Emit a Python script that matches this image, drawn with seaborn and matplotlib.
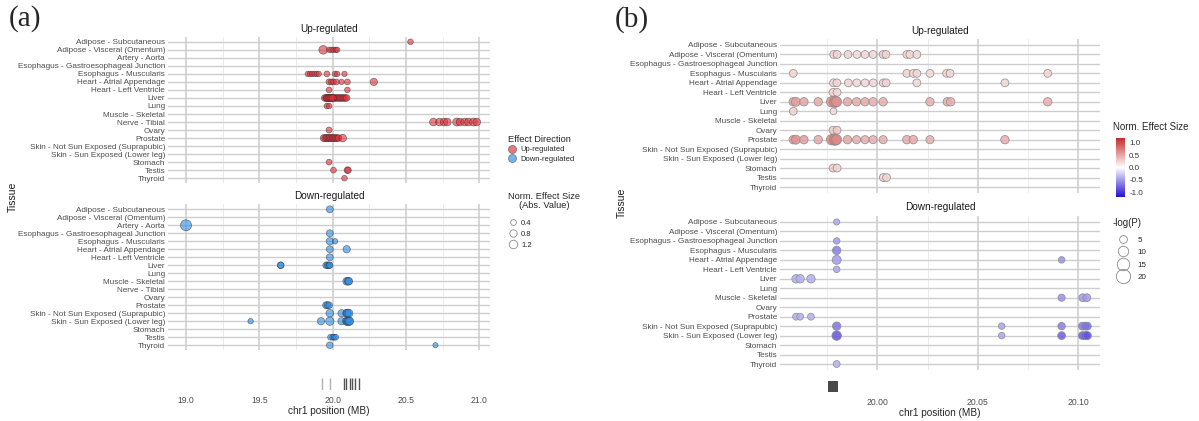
import matplotlib
matplotlib.use("Agg")
import matplotlib.pyplot as plt
import numpy as np
import pandas as pd
import seaborn as sns
from matplotlib.cm import ScalarMappable
from matplotlib.colors import LinearSegmentedColormap, Normalize
from matplotlib.lines import Line2D

sns.set_style("white")
plt.rcParams["font.family"] = ["Liberation Sans", "DejaVu Sans"]
plt.rcParams["axes.unicode_minus"] = False

W, H = 1199, 421

TISSUES_A = [
    "Adipose - Subcutaneous", "Adipose - Visceral (Omentum)", "Artery - Aorta",
    "Esophagus - Gastroesophageal Junction", "Esophagus - Muscularis",
    "Heart - Atrial Appendage", "Heart - Left Ventricle", "Liver", "Lung",
    "Muscle - Skeletal", "Nerve - Tibial", "Ovary", "Prostate",
    "Skin - Not Sun Exposed (Suprapubic)", "Skin - Sun Exposed (Lower leg)",
    "Stomach", "Testis", "Thyroid",
]
TISSUES_B = [t for t in TISSUES_A if t not in ("Artery - Aorta", "Nerve - Tibial")]

# ---- panel (a): up-regulated (tissue, position MB, |norm. effect|)
a_up_tissue = (["Adipose - Subcutaneous"]
               + ["Adipose - Visceral (Omentum)"] * 6
               + ["Esophagus - Muscularis"] * 10
               + ["Heart - Atrial Appendage"] * 7
               + ["Heart - Left Ventricle"] * 2
               + ["Liver"] * 21
               + ["Lung"] * 2
               + ["Nerve - Tibial"] * 10
               + ["Ovary"]
               + ["Prostate"] * 12
               + ["Stomach"]
               + ["Testis"] * 3
               + ["Thyroid"])
a_up_pos = [20.53,
            19.935, 19.975, 19.99, 20.005, 20.02, 20.03,
            19.83, 19.845, 19.86, 19.875, 19.89, 19.905, 19.96, 20.015, 20.03, 20.08,
            19.975, 19.99, 20.005, 20.025, 20.06, 20.10, 20.28,
            19.975, 20.10,
            19.945, 19.955, 19.965, 19.975, 19.985, 19.995, 20.005, 20.015, 20.025, 20.035, 20.045,
            20.055, 20.065, 20.075, 20.085, 20.095, 19.96, 19.97, 19.98, 19.99, 20.0,
            19.96, 19.975,
            20.686, 20.727, 20.759, 20.781, 20.845, 20.868, 20.90, 20.925, 20.959, 20.982,
            19.975,
            19.94, 19.95, 19.96, 19.97, 19.98, 19.99, 20.0, 20.01, 20.02, 20.03, 20.04, 20.068,
            19.975,
            20.005, 20.10, 20.105,
            20.08]
a_up_eff = [0.35,
            1.25, 0.3, 0.3, 0.3, 0.3, 0.3,
            0.3, 0.3, 0.3, 0.3, 0.3, 0.3, 0.4, 0.3, 0.3, 0.3,
            0.45, 0.4, 0.4, 0.4, 0.3, 0.4, 0.8,
            0.4, 0.35,
            0.6, 0.6, 0.6, 0.6, 0.6, 0.6, 0.6, 0.6, 0.6, 0.6, 0.6,
            0.6, 0.6, 0.6, 0.6, 0.6, 0.7, 0.7, 0.7, 0.7, 0.7,
            0.35, 0.35,
            0.9, 0.9, 0.9, 0.9, 1.0, 0.9, 0.9, 0.9, 1.0, 0.9,
            0.45,
            0.8, 0.7, 0.7, 0.7, 0.7, 0.7, 0.7, 0.7, 0.7, 0.6, 0.6, 0.9,
            0.4,
            0.4, 0.6, 0.5,
            0.35]

# ---- panel (a): down-regulated
a_dn_tissue = (["Adipose - Subcutaneous", "Artery - Aorta",
                "Esophagus - Gastroesophageal Junction"]
               + ["Esophagus - Muscularis"] * 2
               + ["Heart - Atrial Appendage"] * 2
               + ["Heart - Left Ventricle"]
               + ["Liver"] * 6
               + ["Muscle - Skeletal"] * 3
               + ["Prostate"] * 3
               + ["Skin - Not Sun Exposed (Suprapubic)"] * 5
               + ["Skin - Sun Exposed (Lower leg)"] * 8
               + ["Testis"] * 4
               + ["Thyroid"] * 2)
a_dn_pos = [19.98, 19.0, 19.98,
            19.98, 20.016,
            19.98, 20.095,
            19.98,
            19.645, 19.645, 19.955, 19.965, 19.975, 19.98,
            20.095, 20.105, 20.11,
            19.955, 19.965, 19.975,
            19.98, 20.06, 20.095, 20.10, 20.11,
            19.44, 19.92, 19.98, 20.06, 20.095, 20.10, 20.11, 20.115,
            19.985, 20.0, 20.01, 20.02,
            19.98, 20.70]
a_dn_eff = [0.7, 2.2, 0.7,
            0.8, 0.3,
            0.7, 0.8,
            0.7,
            0.6, 0.55, 0.6, 0.6, 0.6, 0.5,
            0.9, 0.9, 0.85,
            0.7, 0.7, 0.6,
            0.9, 0.8, 1.0, 1.0, 1.0,
            0.3, 0.8, 1.1, 0.8, 1.1, 1.0, 1.2, 1.0,
            0.4, 0.4, 0.4, 0.4,
            0.6, 0.25]

a_gene_light = [19.925, 19.982]
a_gene_dark = [20.078, 20.088, 20.118, 20.130, 20.152, 20.176]

# ---- panel (b): up-regulated (tissue, position MB, norm. effect, -log(P))
b_up_tissue = (["Adipose - Visceral (Omentum)"] * 11
               + ["Esophagus - Muscularis"] * 8
               + ["Heart - Atrial Appendage"] * 10
               + ["Heart - Left Ventricle"] * 2
               + ["Liver"] * 16
               + ["Lung"] * 2
               + ["Ovary"] * 2
               + ["Prostate"] * 16
               + ["Stomach"] * 2
               + ["Testis"] * 2)
b_up_pos = [19.9783, 19.9800, 19.9854, 19.9899, 19.9939, 19.9979, 20.0029, 20.0043, 20.0147, 20.0162, 20.0197,
            19.9582, 20.0147, 20.0179, 20.0197, 20.0262, 20.0345, 20.0362, 20.0848,
            19.9782, 19.9799, 19.9856, 19.9898, 19.9939, 19.9980, 20.0030, 20.0044, 20.0197, 20.0635,
            19.978, 19.980,
            19.9582, 19.9595, 19.9635, 19.9706, 19.9773, 19.9789, 19.9798, 19.9852, 19.9897, 19.9939,
            19.9979, 20.0029, 20.0262, 20.0348, 20.0365, 20.0848,
            19.9582, 19.9782,
            19.978, 19.980,
            19.9582, 19.9595, 19.9635, 19.9706, 19.9773, 19.9789, 19.9798, 19.9852, 19.9897, 19.9939,
            19.9979, 20.0029, 20.0147, 20.0179, 20.0262, 20.0635,
            19.978, 19.980,
            20.003, 20.0046]
b_up_eff = [0.25, 0.25, 0.25, 0.22, 0.22, 0.22, 0.25, 0.25, 0.25, 0.22, 0.22,
            0.25, 0.25, 0.22, 0.22, 0.22, 0.25, 0.22, 0.25,
            0.25, 0.25, 0.25, 0.22, 0.22, 0.22, 0.25, 0.25, 0.22, 0.22,
            0.25, 0.22,
            0.5, 0.55, 0.5, 0.48, 0.6, 0.72, 0.6, 0.5, 0.48, 0.48,
            0.45, 0.45, 0.45, 0.45, 0.45, 0.45,
            0.28, 0.22,
            0.3, 0.3,
            0.55, 0.6, 0.55, 0.48, 0.65, 0.75, 0.65, 0.5, 0.45, 0.45,
            0.45, 0.45, 0.48, 0.48, 0.45, 0.45,
            0.3, 0.25,
            0.25, 0.25]
b_up_nlogp = [5, 5, 5, 5, 5, 5, 5, 5, 5, 5, 5,
              5, 5, 5, 5, 5, 5, 5, 5,
              5, 5, 5, 5, 5, 5, 5, 5, 5, 5,
              5, 5,
              6, 7, 6, 6, 10, 12, 9, 6, 6, 6,
              6, 6, 6, 6, 6, 6,
              5, 3.5,
              5, 5,
              6, 7, 6, 6, 10, 12, 9, 6, 5.5, 5.5,
              5.5, 5.5, 6, 6, 5.5, 6,
              5, 5,
              5, 5]

# ---- panel (b): down-regulated
b_dn_tissue = (["Adipose - Subcutaneous", "Esophagus - Gastroesophageal Junction",
                "Esophagus - Muscularis"]
               + ["Heart - Atrial Appendage"] * 2
               + ["Heart - Left Ventricle"]
               + ["Liver"] * 3
               + ["Muscle - Skeletal"] * 3
               + ["Prostate"] * 3
               + ["Skin - Not Sun Exposed (Suprapubic)"] * 6
               + ["Skin - Sun Exposed (Lower leg)"] * 6
               + ["Thyroid"])
b_dn_pos = [19.9798, 19.9798, 19.9798,
            19.9798, 20.0917,
            19.9798,
            19.9596, 19.9616, 19.9670,
            20.0917, 20.1022, 20.1042,
            19.9596, 19.9616, 19.9670,
            19.9798, 20.0619, 20.0917, 20.1020, 20.1035, 20.1045,
            19.9798, 20.0619, 20.0917, 20.1020, 20.1035, 20.1045,
            19.9798]
b_dn_eff = [-0.45, -0.5, -0.65,
            -0.5, -0.55,
            -0.45,
            -0.4, -0.4, -0.4,
            -0.55, -0.5, -0.5,
            -0.4, -0.4, -0.4,
            -0.7, -0.45, -0.65, -0.65, -0.7, -0.7,
            -0.85, -0.45, -0.8, -0.8, -0.85, -0.85,
            -0.4]
b_dn_nlogp = [2.5, 3, 6,
              7, 3,
              3,
              6, 6, 6,
              4, 5, 5,
              3.5, 3.5, 3.5,
              6, 3, 4.5, 5, 5, 5,
              8, 3, 5, 5, 5.5, 5.5,
              3.5]

b_gene_start = 19.9755
b_gene_end = 19.9805

UP_RED = "#E0303A"
DN_BLUE = "#2A8CE6"
EFFECT_CMAP = LinearSegmentedColormap.from_list("eff", ["#2410D4", "#FFFFFF", "#C62A2A"])
EFF_NORM = Normalize(-1.2, 1.2)

# size scales: marker area (pt^2) linear in value
A_SIZE_NORM, A_SIZES = (0.2, 2.4), (12.5, 68.0)
B_SIZE_NORM, B_SIZES = (2, 20), (17.0, 105.0)


def px_axes(fig, x0, y0, x1, y1):
    return fig.add_axes([x0 / W, 1 - y1 / H, (x1 - x0) / W, (y1 - y0) / H])


def style_panel(ax, tissues, xlim, major, minor):
    ax.set_xlim(xlim)
    ax.set_ylim(len(tissues) - 1 + 0.6, -0.6)
    ax.set_yticks(range(len(tissues)))
    ax.set_yticklabels(tissues, fontsize=5.9, color="#4d4d4d")
    ax.tick_params(axis="y", length=0, pad=2)
    ax.set_xticks(major)
    ax.set_xticks(minor, minor=True)
    ax.tick_params(axis="x", which="both", length=0, labelbottom=False)
    ax.grid(axis="x", which="major", color="#cdcdcd", lw=1.1)
    ax.grid(axis="x", which="minor", color="#e8e8e8", lw=0.6)
    ax.grid(axis="y", which="major", color="#cdcdcd", lw=1.0)
    for s in ax.spines.values():
        s.set_visible(False)
    ax.set_axisbelow(True)
    ax.set_xlabel("")
    ax.set_ylabel("")


def style_track(ax, xlim, major, fmt):
    ax.set_xlim(xlim)
    ax.set_ylim(0, 1)
    ax.set_yticks([])
    ax.set_xticks(major)
    ax.set_xticklabels([fmt.format(v) for v in major], fontsize=6.2, color="#4d4d4d")
    ax.tick_params(axis="x", length=2.5, width=0.8, color="#9a9a9a", pad=1.5)
    for s in ax.spines.values():
        s.set_visible(False)
    ax.set_xlabel("chr1 position (MB)", fontsize=7.2, labelpad=1)
    ax.set_ylabel("")


def frame(tissue, pos, **cols):
    return pd.DataFrame({"tissue": tissue, "pos": pos, **cols})


fig = plt.figure(figsize=(W / 100, H / 100), dpi=100)

# ---------------- panel (a)
xlim_a = (18.877, 21.072)
maj_a = [19.0, 19.5, 20.0, 20.5, 21.0]
min_a = [19.25, 19.75, 20.25, 20.75]
rows_a = {t: i for i, t in enumerate(TISSUES_A)}

a_up = frame(a_up_tissue, a_up_pos, eff=a_up_eff)
a_up["row"] = a_up["tissue"].map(rows_a)
a_up["direction"] = "Up-regulated"
a_dn = frame(a_dn_tissue, a_dn_pos, eff=a_dn_eff)
a_dn["row"] = a_dn["tissue"].map(rows_a)
a_dn["direction"] = "Down-regulated"
pal_a = {"Up-regulated": UP_RED, "Down-regulated": DN_BLUE}

ax_au = px_axes(fig, 168, 37, 490, 183)
ax_ad = px_axes(fig, 168, 204.5, 490, 350)
ax_ag = px_axes(fig, 168, 378, 490, 390)
for ax, df in ((ax_au, a_up), (ax_ad, a_dn)):
    sns.scatterplot(data=df, x="pos", y="row", hue="direction", palette=pal_a,
                    size="eff", sizes=A_SIZES, size_norm=A_SIZE_NORM,
                    alpha=0.6, edgecolor="#2b2b2b", linewidth=0.5, legend=False, ax=ax)
    style_panel(ax, TISSUES_A, xlim_a, maj_a, min_a)

sns.rugplot(x=a_gene_light, height=1, color="#b0b0b0", lw=0.8, ax=ax_ag)
sns.rugplot(x=a_gene_dark, height=1, color="#555555", lw=2.4, ax=ax_ag)
style_track(ax_ag, xlim_a, maj_a, "{:.1f}")

# ---------------- panel (b)
xlim_b = (19.9516, 20.1108)
maj_b = [20.00, 20.05, 20.10]
min_b = [19.975, 20.025, 20.075]
rows_b = {t: i for i, t in enumerate(TISSUES_B)}

b_up = frame(b_up_tissue, b_up_pos, eff=b_up_eff, nlogp=b_up_nlogp)
b_up["row"] = b_up["tissue"].map(rows_b)
b_dn = frame(b_dn_tissue, b_dn_pos, eff=b_dn_eff, nlogp=b_dn_nlogp)
b_dn["row"] = b_dn["tissue"].map(rows_b)

ax_bu = px_axes(fig, 780, 39.3, 1100, 192.7)
ax_bd = px_axes(fig, 780, 216.3, 1100, 369.7)
ax_bg = px_axes(fig, 780, 381, 1100, 392)
for ax, df in ((ax_bu, b_up), (ax_bd, b_dn)):
    sns.scatterplot(data=df, x="pos", y="row", hue="eff", palette=EFFECT_CMAP, hue_norm=EFF_NORM,
                    size="nlogp", sizes=B_SIZES, size_norm=B_SIZE_NORM,
                    alpha=0.85, edgecolor="#8a8a8a", linewidth=0.6, legend=False, ax=ax)
    style_panel(ax, TISSUES_B, xlim_b, maj_b, min_b)

ax_bg.axvspan(b_gene_start, b_gene_end, color="#4a4a4a", lw=0)
style_track(ax_bg, xlim_b, maj_b, "{:.2f}")

# ---------------- texts
txt = dict(ha="center", va="center", color="#1a1a1a")
fig.text(329 / W, 1 - 29 / H, "Up-regulated", fontsize=7.2, **txt)
fig.text(329 / W, 1 - 196 / H, "Down-regulated", fontsize=7.2, **txt)
fig.text(940 / W, 1 - 31 / H, "Up-regulated", fontsize=7.2, **txt)
fig.text(940 / W, 1 - 207 / H, "Down-regulated", fontsize=7.2, **txt)
fig.text(13 / W, 1 - 197 / H, "Tissue", rotation=90, fontsize=7.5, **txt)
fig.text(622 / W, 1 - 203 / H, "Tissue", rotation=90, fontsize=7.5, **txt)
fig.text(9 / W, 1 - 19 / H, "(a)", fontsize=21, family="Liberation Serif", ha="left", va="center")
fig.text(615 / W, 1 - 20 / H, "(b)", fontsize=21, family="Liberation Serif", ha="left", va="center")


# ---------------- legends (a)
def a_area(v):
    lo, hi = A_SIZE_NORM
    return A_SIZES[0] + (v - lo) / (hi - lo) * (A_SIZES[1] - A_SIZES[0])


def b_area(v):
    lo, hi = B_SIZE_NORM
    return B_SIZES[0] + (v - lo) / (hi - lo) * (B_SIZES[1] - B_SIZES[0])


dir_handles = [Line2D([], [], marker="o", ls="", markersize=5.8, markerfacecolor=c,
                      markeredgecolor="#3a3a3a", markeredgewidth=0.5, alpha=0.65)
               for c in (UP_RED, DN_BLUE)]
fig.legend(dir_handles, ["Up-regulated", "Down-regulated"], title="Effect Direction",
           loc="upper left", bbox_to_anchor=(504 / W, 1 - 131 / H), frameon=False,
           fontsize=5.5, title_fontsize=6.7, alignment="left", borderpad=0,
           handlelength=1.0, handletextpad=0.6, labelspacing=0.3)

fig.text(544 / W, 1 - 201 / H, "Norm. Effect Size\n(Abs. Value)", fontsize=6.7,
         ha="center", va="center", multialignment="center", linespacing=1.1)
size_vals_a = [0.4, 0.8, 1.2]
size_handles = [Line2D([], [], marker="o", ls="", markersize=np.sqrt(a_area(v)),
                       markerfacecolor="none", markeredgecolor="#8a8a8a", markeredgewidth=0.6)
                for v in size_vals_a]
fig.legend(size_handles, [f"{v:.1f}" for v in size_vals_a],
           loc="upper left", bbox_to_anchor=(505 / W, 1 - 216 / H), frameon=False,
           fontsize=5.5, borderpad=0, handlelength=1.0, handletextpad=0.6, labelspacing=0.45)

# ---------------- legends (b)
cax = px_axes(fig, 1116, 138, 1125, 197)
cb = fig.colorbar(ScalarMappable(norm=EFF_NORM, cmap=EFFECT_CMAP), cax=cax)
cb.set_ticks([-1.0, -0.5, 0.0, 0.5, 1.0])
cb.ax.tick_params(labelsize=5.8, length=0, pad=3, labelcolor="#333333")
cb.outline.set_visible(False)
fig.text(1113 / W, 1 - 127 / H, "Norm. Effect Size", fontsize=7, ha="left", va="center")

fig.text(1113 / W, 1 - 223 / H, "-log(P)", fontsize=7, ha="left", va="center")
p_vals = [5, 10, 15, 20]
p_handles = [Line2D([], [], marker="o", ls="", markersize=np.sqrt(b_area(v)),
                    markerfacecolor="none", markeredgecolor="#8a8a8a", markeredgewidth=0.6)
             for v in p_vals]
fig.legend(p_handles, [str(v) for v in p_vals],
           loc="upper left", bbox_to_anchor=(1113 / W, 1 - 232 / H), frameon=False,
           fontsize=5.8, borderpad=0, handlelength=1.6, handletextpad=0.9, labelspacing=0.6)

fig.savefig("out.png", dpi=100)
